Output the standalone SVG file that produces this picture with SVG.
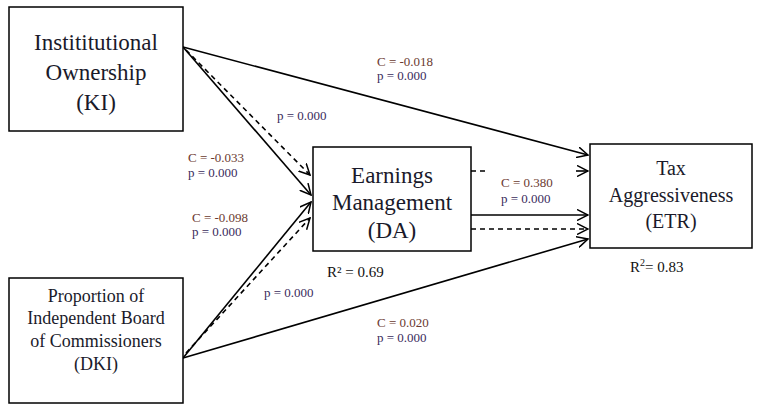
<svg xmlns="http://www.w3.org/2000/svg" width="761" height="413" viewBox="0 0 761 413">
<defs>
<marker id="arr" viewBox="0 0 12 12" refX="11" refY="6" markerWidth="12" markerHeight="12" markerUnits="userSpaceOnUse" orient="auto">
<path d="M0,0.5 L11,6 L0,11.5" fill="none" stroke="#000" stroke-width="1.5"/>
</marker>
<style>
.box{fill:#fff;stroke:#000;stroke-width:1.5}
.nt{font-family:"Liberation Serif","Times New Roman",serif;fill:#1a1a2a;text-anchor:middle}
.ln{stroke:#000;stroke-width:1.6;fill:none}
.ds{stroke:#000;stroke-width:1.6;fill:none;stroke-dasharray:5 4}
.lb{font-family:"Liberation Serif","Times New Roman",serif;font-size:13px}
.c{fill:#6a3a30}
.p{fill:#3a2c5c}
.r{font-family:"Liberation Serif","Times New Roman",serif;font-size:15px;fill:#111}
</style>
</defs>
<g id="connectors">
<line class="ln" x1="183" y1="47" x2="588" y2="155" marker-end="url(#arr)"/>
<line class="ln" x1="183" y1="47" x2="311" y2="195" marker-end="url(#arr)"/>
<line class="ds" x1="186" y1="50" x2="310" y2="175" marker-end="url(#arr)"/>
<line class="ln" x1="183" y1="358" x2="311" y2="202" marker-end="url(#arr)"/>
<line class="ds" x1="186" y1="353" x2="310" y2="218" marker-end="url(#arr)"/>
<line class="ln" x1="183" y1="358" x2="588" y2="239" marker-end="url(#arr)"/>
<line class="ds" x1="471" y1="171" x2="487" y2="171"/>
<line class="ln" x1="576" y1="171" x2="588" y2="171" marker-end="url(#arr)"/>
<line class="ln" x1="471" y1="215" x2="588" y2="215" marker-end="url(#arr)"/>
<line class="ds" x1="471" y1="229" x2="588" y2="229" marker-end="url(#arr)"/>
</g>
<g id="KI">
<rect class="box" x="9" y="7" width="174" height="124"/>
<text class="nt" font-size="23" x="96" y="50">Instititutional</text>
<text class="nt" font-size="23" x="96" y="80">Ownership</text>
<text class="nt" font-size="23" x="96" y="110">(KI)</text>
</g>
<g id="DA">
<rect class="box" x="313" y="147" width="158" height="104"/>
<text class="nt" font-size="23" x="392" y="183">Earnings</text>
<text class="nt" font-size="23" x="392" y="210">Management</text>
<text class="nt" font-size="23" x="392" y="238">(DA)</text>
</g>
<g id="ETR">
<rect class="box" x="590" y="144" width="162" height="104"/>
<text class="nt" font-size="20" x="671" y="175">Tax</text>
<text class="nt" font-size="20" x="671" y="202">Aggressiveness</text>
<text class="nt" font-size="20" x="671" y="228">(ETR)</text>
</g>
<g id="DKI">
<rect class="box" x="9" y="278" width="174" height="125"/>
<text class="nt" font-size="18" x="96" y="302">Proportion of</text>
<text class="nt" font-size="18" x="96" y="324">Independent Board</text>
<text class="nt" font-size="18" x="96" y="347">of Commissioners</text>
<text class="nt" font-size="18" x="96" y="370">(DKI)</text>
</g>
<g id="labels">
<text class="lb c" x="377" y="66">C = -0.018</text>
<text class="lb p" x="377" y="80">p = 0.000</text>
<text class="lb p" x="277" y="120">p  = 0.000</text>
<text class="lb c" x="188" y="162">C = -0.033</text>
<text class="lb p" x="188" y="177">p = 0.000</text>
<text class="lb c" x="192" y="222">C = -0.098</text>
<text class="lb p" x="192" y="236">p = 0.000</text>
<text class="lb p" x="264" y="297">p  = 0.000</text>
<text class="r" x="327" y="277">R² = 0.69</text>
<text class="lb c" x="377" y="327">C = 0.020</text>
<text class="lb p" x="377" y="342">p = 0.000</text>
<text class="lb c" x="501" y="187">C = 0.380</text>
<text class="lb p" x="501" y="203">p  = 0.000</text>
<text class="r" x="630" y="272">R<tspan font-size="10" dy="-6">2</tspan><tspan dy="6">= 0.83</tspan></text>
</g>
</svg>
